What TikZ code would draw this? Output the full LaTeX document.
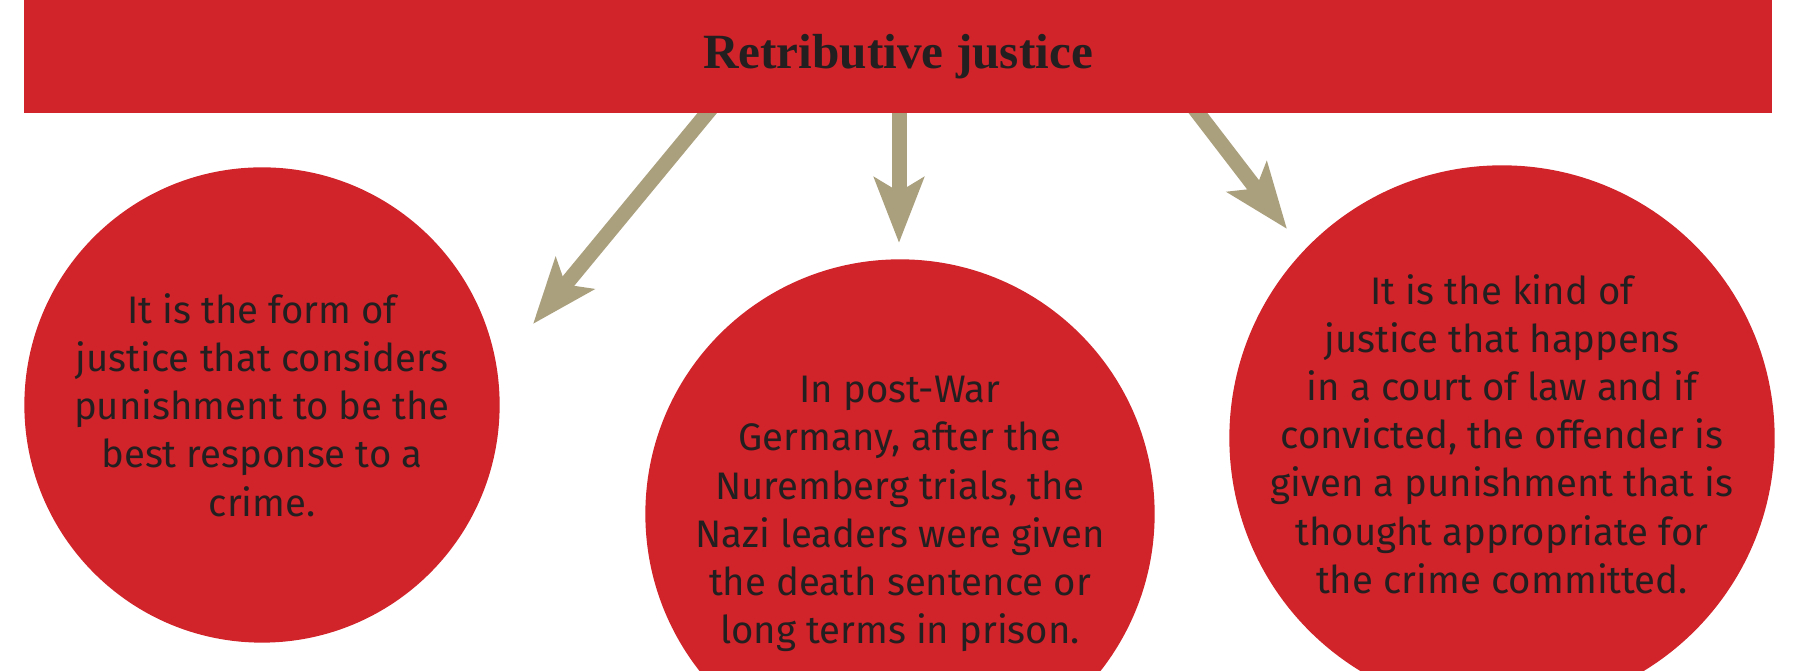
\documentclass[tikz,border=0pt]{standalone}
\usepackage{fontspec}
\setmainfont{Fira Sans}
\newfontfamily\headfont{Liberation Serif}
\usepackage{tikz}
\usetikzlibrary{arrows.meta}
\definecolor{rjred}{HTML}{D0232A}
\definecolor{rjtan}{HTML}{ABA07E}
\definecolor{rjink}{HTML}{231F20}

\begin{document}
\begin{tikzpicture}[x=0.01cm, y=-0.01cm,
                    banner/.style={fill=rjred, text=rjink,
                    minimum width=17.46cm, minimum height=1.13cm,
                    inner sep=0pt,
                    font=\headfont\bfseries\fontsize{14}{17}\selectfont},
                    bubble/.style={circle, fill=rjred,
                    minimum size=#1, inner sep=0pt},
                    blurb/.style={align=center, text=rjink, inner sep=0pt,
                    font=\fontsize{10.9}{13.7}\selectfont},
                    link/.style={draw=rjtan, line width=0.15cm,
                    -{Stealth[length=0.65cm,width=0.49cm,inset=0.14cm]}}]
    \clip (0,0) rectangle (1794,671);

    % arrows out of the banner (drawn first, the banner covers their start)
    \coordinate (l0) at (718,100);  \coordinate (l1) at (533,324);
    \coordinate (m0) at (899,100);  \coordinate (m1) at (899,243);
    \coordinate (r0) at (1188,100); \coordinate (r1) at (1287,229);
    \draw[link] (l0) -- (l1);
    \draw[link] (m0) -- (m1);
    \draw[link] (r0) -- (r1);

    \node[banner] (title) at (898,56.5) {Retributive justice};

    \node[bubble=4.75cm] (form) at (262,405) {};
    \node[bubble=5.09cm] (war) at (900,514) {};
    \node[bubble=5.45cm] (court) at (1502,438) {};
    \node[blurb] (form-text) at (form)
        {It is the form of\\justice that considers\\punishment to be the\\best response to a\\crime.};
    \node[blurb] (war-text) at (war)
        {In post-War\\Germany, after the\\Nuremberg trials, the\\Nazi leaders were given\\the death sentence or\\long terms in prison.};
    \node[blurb] (court-text) at ([yshift=0.04cm]court)
        {It is the kind of\\justice that happens\\in a court of law and if\\convicted, the offender is\\given a punishment that is\\thought appropriate for\\the crime committed.};
\end{tikzpicture}
\end{document}
